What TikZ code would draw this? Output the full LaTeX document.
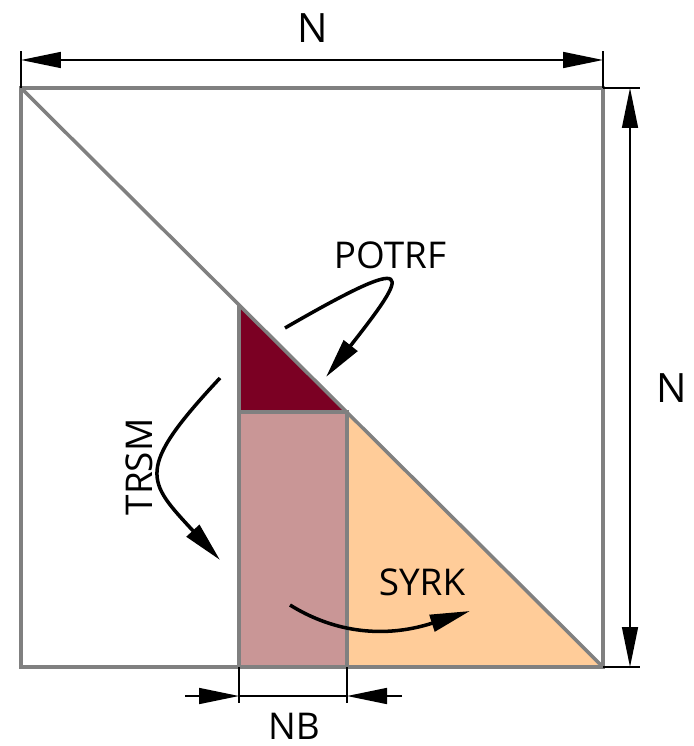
\documentclass[tikz,border=0pt]{standalone}
\usepackage{fontspec}
\setmainfont{Open Sans}
\usepackage{tikz}
\usetikzlibrary{arrows.meta}
\definecolor{Maroon}{HTML}{7B0023}
\definecolor{Rose}{HTML}{C99696}
\definecolor{Peach}{HTML}{FFCC99}
\definecolor{Frame}{HTML}{808080}
\tikzset{
  frame/.style={draw=Frame,line width=2pt},
  dimline/.style={draw=black,line width=0.9pt},
  dimarrow/.style={dimline,-{Triangle[length=0.8cm,width=0.32cm]}},
  flowarrow/.style={line width=2pt,-{Triangle[length=0.8cm,width=0.34cm]}},
  tasktext/.style={font=\fontsize{21}{25}\selectfont},
  sizetext/.style={font=\fontsize{23}{28}\selectfont}
}

\begin{document}
\begin{tikzpicture}[x=0.02cm,y=-0.02cm]
  \useasboundingbox (0,0) rectangle (693,746);
  \coordinate (tl) at (21,88);
  \coordinate (tr) at (603,88);
  \coordinate (bl) at (21,667);
  \coordinate (br) at (603,667);
  \coordinate (dt) at (239,305);
  \coordinate (dk) at (239,412);
  \coordinate (dc) at (347,412);
  \coordinate (pb) at (239,667);
  \coordinate (qb) at (347,667);
  \fill[Maroon] (dt) -- (dk) -- (dc) -- cycle;
  \fill[Rose] (dk) rectangle (qb);
  \fill[Peach] (dc) -- (qb) -- (br) -- cycle;
  \draw[frame] (tl) rectangle (br);
  \draw[frame] (tl) -- (br);
  \draw[frame] (dt) -- (pb);
  \draw[frame] (dk) -- (dc) -- (qb);
  % dimensions
  \draw[dimline] (tl) -- ++(0,-37);
  \draw[dimline] (tr) -- ++(0,-37);
  \draw[dimline] (tr) -- ++(37,0);
  \draw[dimline] (br) -- ++(37,0);
  \draw[dimline] (pb) -- ++(0,36);
  \draw[dimline] (qb) -- ++(0,36);
  \coordinate (nw) at (21,60);
  \coordinate (ne) at (603,60);
  \coordinate (sn) at (630,88);
  \coordinate (ss) at (630,667);
  \coordinate (bw) at (185,696);
  \coordinate (bp) at (239,696);
  \coordinate (bq) at (347,696);
  \coordinate (be) at (402,696);
  \draw[dimarrow,{Triangle[length=0.8cm,width=0.32cm]}-{Triangle[length=0.8cm,width=0.32cm]}] (nw) -- (ne);
  \draw[dimarrow,{Triangle[length=0.8cm,width=0.32cm]}-{Triangle[length=0.8cm,width=0.32cm]}] (sn) -- (ss);
  \draw[dimarrow] (bw) -- (bp);
  \draw[dimline] (bp) -- (bq);
  \draw[dimarrow] (be) -- (bq);
  \node[sizetext] (ntop) at (313,28) {N};
  \node[sizetext] (nright) at (672,388) {N};
  \node[tasktext] (nb) at (294,726) {NB};
  % tasks
  \node[tasktext] (potrf) at (390,255) {POTRF};
  \node[tasktext,rotate=90] (trsm) at (139,467) {TRSM};
  \node[tasktext] (syrk) at (422,582) {SYRK};
  \coordinate (pa) at (285,328);
  \coordinate (pz) at (326,377);
  \coordinate (ta) at (220,378);
  \coordinate (tz) at (220,560);
  \coordinate (sa) at (290,605);
  \coordinate (sz) at (470,611);
  \draw[flowarrow] (pa) .. controls (420,250) and (410,270) .. (pz);
  \draw[flowarrow] (ta) .. controls (134,470) and (147,481) .. (tz);
  \draw[flowarrow] (sa) .. controls (330,630) and (380,640) .. (sz);
\end{tikzpicture}
\end{document}
